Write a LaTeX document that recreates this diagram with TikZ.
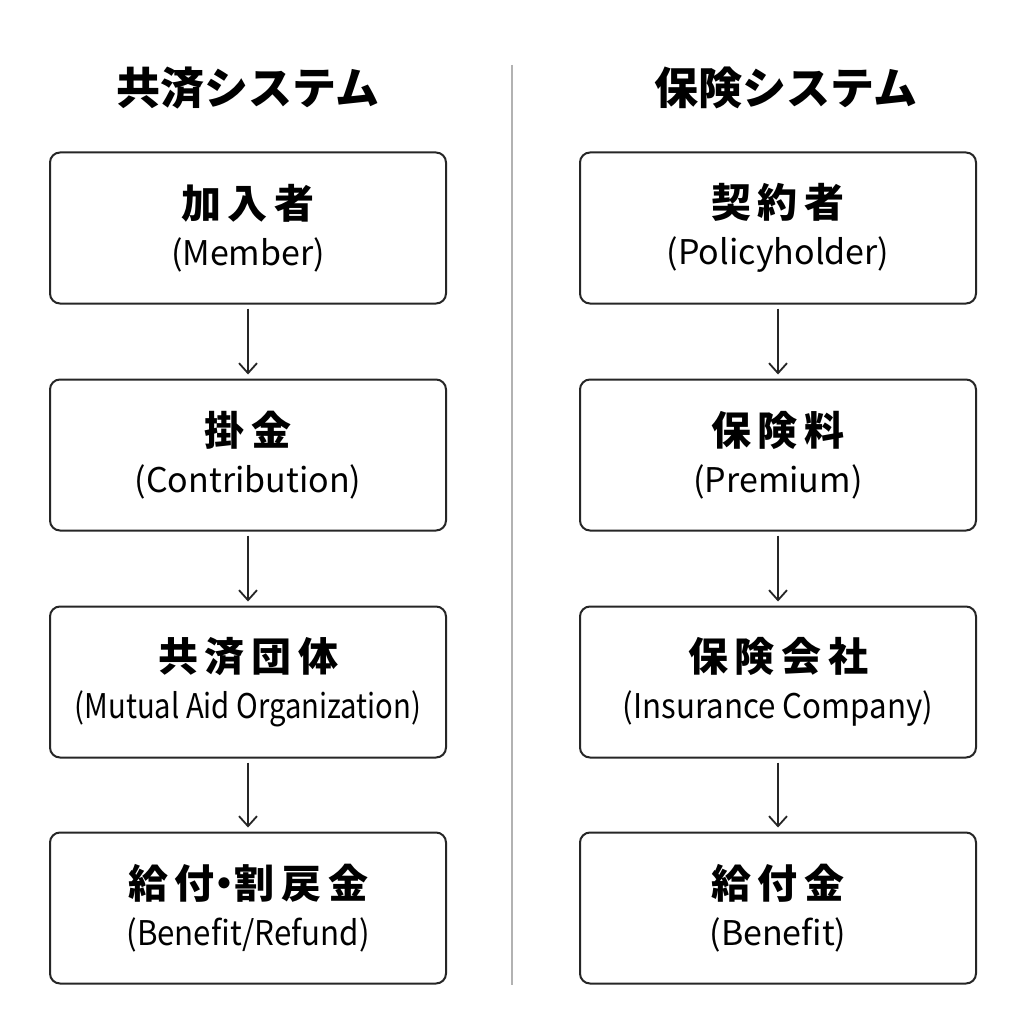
\documentclass[tikz,border=0pt]{standalone}
\usepackage{fontspec}
\setmainfont{Noto Sans CJK JP}
\usetikzlibrary{arrows.meta}
\begin{document}
\begin{tikzpicture}[x=1pt,y=-1pt,
  box/.style={draw=black!85,line width=2pt,rounded corners=10pt,minimum width=396pt,minimum height=151pt,align=center,inner sep=0pt,fill=white},
  arr/.style={-{Straight Barb[length=10pt,width=18pt]},line width=1.8pt,black!85,shorten >=8pt},
  ttl/.style={font=\fontsize{44}{48}\selectfont\bfseries}]
\fill[white!97!black!3] (0,0) rectangle (1024,1024);
\useasboundingbox (0,0) rectangle (1024,1024);
\draw[gray!60,line width=1.5pt] (512,65) -- (512,985);
\node[ttl] (tl) at (248,88) {共済システム};
\node[ttl] (tr) at (786,88) {保険システム};
\newcommand{\bx}[4]{\node[box] (#1) at (#2) {\fontsize{40}{44}\selectfont\bfseries #3\\[14pt]\fontsize{34}{38}\selectfont #4};}
\bx{l1}{248,228}{加\,入\,者}{(Member)}
\bx{l2}{248,455}{掛\,金}{(Contribution)}
\bx{l3}{248,682}{共\,済\,団\,体}{\scalebox{0.86}[1]{(Mutual Aid Organization)}}
\bx{l4}{248,908}{給\,付\kern-10pt・\kern-10pt割\,戻\,金}{\scalebox{0.92}[1]{(Benefit/Refund)}}
\bx{r1}{778,228}{契\,約\,者}{(Policyholder)}
\bx{r2}{778,455}{保\,険\,料}{(Premium)}
\bx{r3}{778,682}{保\,険\,会\,社}{\scalebox{0.92}[1]{(Insurance Company)}}
\bx{r4}{778,908}{給\,付\,金}{(Benefit)}
\foreach \a/\b in {l1/l2,l2/l3,l3/l4,r1/r2,r2/r3,r3/r4}
  \draw[arr] ([yshift=-4pt]\a.south) -- ([yshift=-4pt]\b.north);
\end{tikzpicture}
\end{document}
